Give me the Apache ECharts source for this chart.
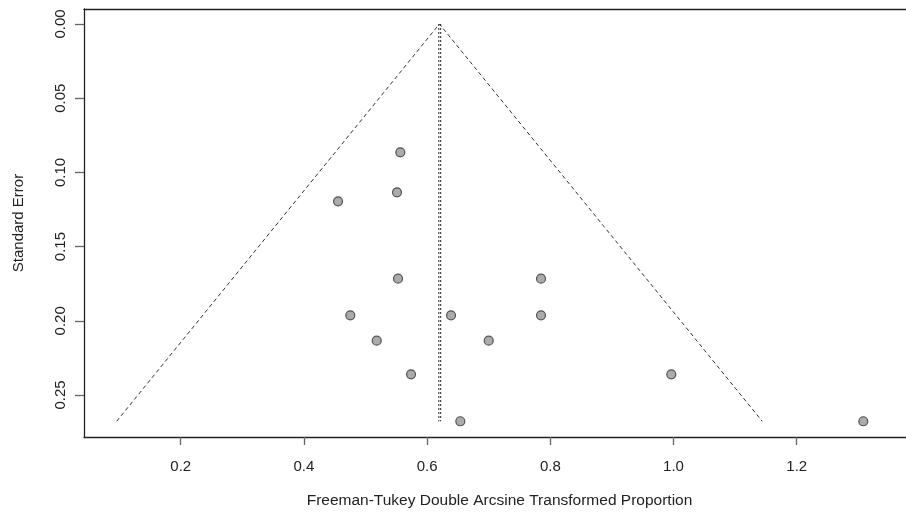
<!DOCTYPE html>
<html>
<head>
<meta charset="utf-8">
<script src="https://cdn.jsdelivr.net/npm/echarts@6/dist/echarts.min.js"></script>
<style>html,body{margin:0;padding:0;background:#fff}#c{width:906px;height:518px}</style>
</head>
<body>
<div id="c"></div>
<script>
// Study estimates (Freeman-Tukey transformed) and their standard errors
const effects = [0.5565, 0.5511, 0.4554, 0.5528, 0.7849, 0.4753, 0.6388, 0.7849, 0.5182, 0.7000, 0.5739, 0.9964, 0.6539, 1.3081];
const stdErrors = [0.0865, 0.1134, 0.1195, 0.1716, 0.1716, 0.1963, 0.1963, 0.1963, 0.2134, 0.2134, 0.2361, 0.2361, 0.2677, 0.2677];
// Funnel (pseudo 95% limits)
const funnelX = [0.096, 0.620, 1.144];
const funnelSE = [0.2677, 0.0, 0.2677];
// Pooled estimate lines (two nearly coincident dotted lines)
const pooledX = [0.619, 0.622];
const pooledSE = [0.0, 0.2677];
// Tick values
const xTicks = [0.2, 0.4, 0.6, 0.8, 1.0, 1.2];
const yTicks = [0.00, 0.05, 0.10, 0.15, 0.20, 0.25];

const font = 'Liberation Sans, Arial, sans-serif';
const chart = echarts.init(document.getElementById('c'), null, {renderer: 'canvas'});

const series = [
  {
    type: 'line',
    data: funnelX.map((x, i) => [x, funnelSE[i]]),
    symbol: 'none',
    lineStyle: {color: '#333', width: 1, type: [4, 3]},
    silent: true, z: 2
  }
];
pooledX.forEach(px => {
  series.push({
    type: 'line',
    data: pooledSE.map(s => [px, s]),
    symbol: 'none',
    lineStyle: {color: '#222', width: 1, type: [2, 2]},
    silent: true, z: 2
  });
});
series.push({
  type: 'scatter',
  data: effects.map((x, i) => [x, stdErrors[i]]),
  symbol: 'circle',
  symbolSize: 9,
  itemStyle: {color: '#969696', borderColor: '#333', borderWidth: 1.2},
  z: 5
});

const xMin = 0.043, xMax = 1.3774;
chart.setOption({
  animation: false,
  backgroundColor: '#fff',
  grid: {left: 84, top: 9, right: 0, bottom: 81, show: false},
  xAxis: [{
    type: 'value',
    min: xMin, max: xMax,
    name: 'Freeman-Tukey Double Arcsine Transformed Proportion',
    nameLocation: 'middle', nameGap: 56,
    nameTextStyle: {fontFamily: font, fontSize: 15.5, color: '#222', padding: [0, 0, 0, 9]},
    axisLine: {show: true, onZero: false, lineStyle: {color: '#222', width: 1.3}},
    splitLine: {show: false},
    axisTick: {show: true, length: 8, customValues: xTicks, lineStyle: {color: '#666', width: 1.3}},
    axisLabel: {customValues: xTicks, fontFamily: font, fontSize: 15, color: '#222', margin: 22,
      formatter: v => v.toFixed(1)}
  }, {
    type: 'value',
    position: 'top',
    min: xMin, max: xMax,
    axisLine: {show: true, onZero: false, lineStyle: {color: '#222', width: 1.3}},
    axisTick: {show: false},
    axisLabel: {show: false},
    splitLine: {show: false}
  }],
  yAxis: {
    type: 'value',
    inverse: true,
    min: -0.0101, max: 0.2783,
    name: 'Standard Error',
    nameLocation: 'middle', nameGap: 58, nameRotate: 90,
    nameTextStyle: {fontFamily: font, fontSize: 15, color: '#222'},
    axisLine: {show: true, onZero: false, lineStyle: {color: '#222', width: 1.3}},
    splitLine: {show: false},
    axisTick: {show: true, length: 9, customValues: yTicks, lineStyle: {color: '#666', width: 1.3}},
    axisLabel: {customValues: yTicks, rotate: 90, fontFamily: font, fontSize: 15, color: '#222', margin: 16,
      formatter: v => v.toFixed(2)}
  },
  series: series
});
</script>
</body>
</html>
